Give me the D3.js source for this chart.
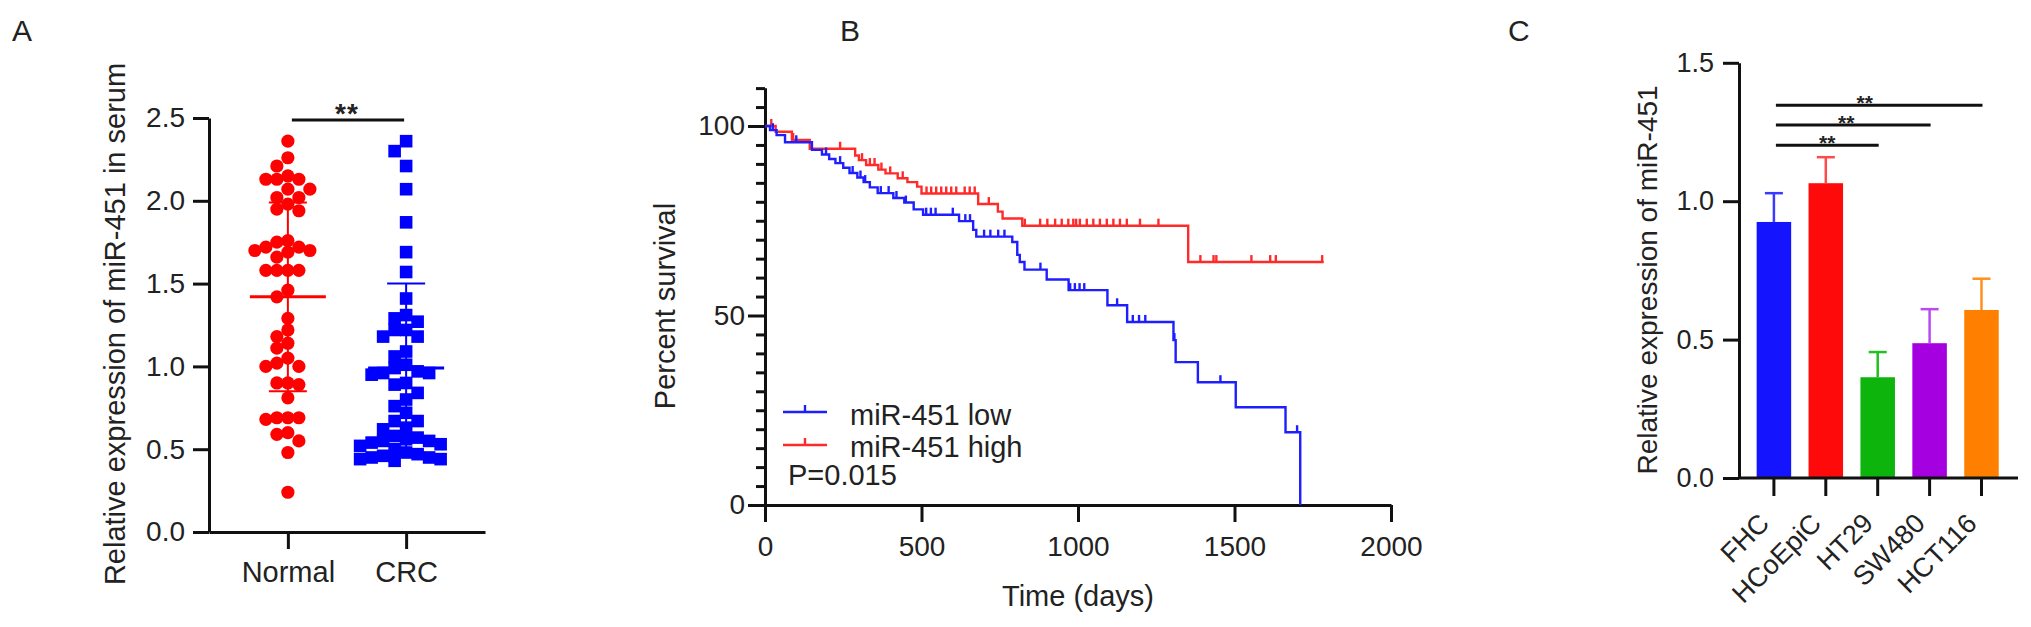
<!DOCTYPE html>
<html><head><meta charset="utf-8">
<script src="https://cdn.jsdelivr.net/npm/d3@7"></script>
<style>
body{margin:0;background:#fff;}
svg{display:block;}
text{font-family:"Liberation Sans",Arial,Helvetica,sans-serif;fill:#222;}
</style>
</head><body>
<svg id="fig" width="2031" height="627"></svg>
<script>
// ---------------- Panel A data ----------------
const groupsA = ["Normal", "CRC"];
const normalValues = [2.36,2.26,2.21,2.15,2.13,2.13,2.13,2.07,2.07,2.02,2.02,1.98,1.94,1.95,1.76,1.72,1.72,1.70,1.69,1.75,1.70,1.66,1.58,1.58,1.58,1.58,1.46,1.42,1.29,1.22,1.18,1.14,1.11,1.05,1.02,1.00,1.00,0.90,0.89,0.90,0.81,0.69,0.68,0.69,0.69,0.60,0.59,0.55,0.48,0.24];
const crcValues = [2.36,2.30,2.21,2.07,1.87,1.69,1.57,1.41,1.31,1.29,1.27,1.22,1.22,1.18,1.18,1.09,1.06,0.99,1.01,0.96,0.95,0.96,0.97,0.90,0.89,0.84,0.80,0.76,0.72,0.67,0.67,0.63,0.62,0.58,0.55,0.57,0.53,0.55,0.54,0.52,0.50,0.48,0.47,0.45,0.44,0.44,0.43,0.45,0.46,0.56];
const normalMeanSD = [1.42, 0.57];
const crcMeanSD = [0.99, 0.51];
const ticksA = [0, 0.5, 1.0, 1.5, 2.0, 2.5];
const sigA = 2.488;

// ---------------- Panel B data ----------------
const lowTime = [0,16,37,64,150,182,205,225,250,270,295,315,335,360,410,445,475,505,620,665,675,790,806,814,829,900,970,1094,1157,1305,1312,1383,1504,1663,1710];
const lowSurv = [100,98.9,97.6,95.7,93.7,92.5,91.3,90.2,89.0,87.6,86.4,85.2,83.8,82.3,81.0,79.8,78.0,76.6,74.9,72.6,70.8,69.4,66.0,64.1,62.1,59.5,56.7,52.7,48.3,43.5,37.7,32.4,25.8,19.2,0];
const lowEnd = 1710;
const lowCensor = [25,100,195,240,280,305,320,370,395,420,450,515,530,545,600,640,655,700,720,745,765,880,975,990,1005,1020,1125,1175,1195,1215,1308,1455,1700];
const highTime = [0,34,86,143,288,300,323,362,385,424,455,486,500,681,744,759,822,1352];
const highSurv = [100,98.5,96.3,94.0,92.2,91.0,89.7,88.5,87.5,86.2,85.2,84.0,82.2,79.4,77.4,75.6,73.7,64.1];
const highEnd = 1785;
const highCensor = [20,90,240,310,335,350,372,400,440,516,531,547,563,579,595,611,638,654,670,715,830,879,902,927,948,969,985,994,1006,1028,1049,1070,1092,1113,1134,1156,1198,1257,1391,1433,1442,1554,1614,1632,1780];
const ticksBx = [0, 500, 1000, 1500, 2000];
const ticksBy = [0, 50, 100];
const minorBy = d3.range(0, 111, 5);
const seriesB = ["miR-451 low", "miR-451 high"];
const pValueText = "P=0.015";

// ---------------- Panel C data ----------------
const cells = ["FHC", "HCoEpiC", "HT29", "SW480", "HCT116"];
const cellMeans = [0.925, 1.065, 0.364, 0.487, 0.607];
const cellErrors = [0.104, 0.094, 0.091, 0.123, 0.113];
const ticksC = [0, 0.5, 1.0, 1.5];
const sigPairsC = [["FHC","HT29"],["FHC","SW480"],["FHC","HCT116"]];
const sigLevelsC = [1.202, 1.275, 1.347];

// ---------------- styles ----------------
const RED = "#ff0000", BLUE = "#0000ff";
const barColors = ["#1414ff", "#ff0a0a", "#0cb40c", "#a400e0", "#ff8000"];
const errColors = ["#3a3aff", "#ff4a4a", "#20c020", "#b84af0", "#ff9020"];
const KM_BLUE = "#1e1eff", KM_RED = "#ff2a2a";

const svg = d3.select("#fig");
svg.append("rect").attr("width", 2031).attr("height", 627).attr("fill", "#fff");

function styleAxis(g, fs) {
  g.selectAll("path.domain").attr("stroke", "#111").attr("stroke-width", 3);
  g.selectAll(".tick line").attr("stroke", "#111").attr("stroke-width", 3);
  g.selectAll(".tick text").attr("font-size", fs).attr("fill", "#222")
    .attr("font-family", '"Liberation Sans",Arial,sans-serif');
}

// panel letters
svg.append("text").attr("x", 12).attr("y", 41).attr("font-size", 30).text("A");
svg.append("text").attr("x", 840).attr("y", 41).attr("font-size", 30).text("B");
svg.append("text").attr("x", 1508).attr("y", 41).attr("font-size", 30).text("C");

// ================= Panel A =================
const yA = d3.scaleLinear().domain([0, 2.5]).range([532, 118]);
const xA = d3.scalePoint().domain(groupsA).range([209, 485]).padding(0.667);

function swarm(values, cx, step, minDist) {
  const pts = values.map(v => ({v, y: yA(v)})).sort((a, b) => b.v - a.v);
  const order = [0, -1, 1, -2, 2, -3, 3, -4, 4, -5, 5];
  const placed = [];
  for (const p of pts) {
    for (const k of order) {
      const x = cx + k * step;
      if (placed.every(q => Math.hypot(q.x - x, q.y - p.y) >= minDist)) { p.x = x; break; }
    }
    if (p.x === undefined) p.x = cx;
    placed.push(p);
  }
  return placed;
}

const gA = svg.append("g");
const normPts = swarm(normalValues, xA("Normal"), 11, 10.5);
gA.selectAll("circle.n").data(normPts).join("circle")
  .attr("cx", d => d.x).attr("cy", d => d.y).attr("r", 6.6).attr("fill", RED);
const crcPts = swarm(crcValues, xA("CRC"), 11.5, 11.5);
const sq = 12.6;
gA.selectAll("rect.c").data(crcPts).join("rect")
  .attr("x", d => d.x - sq / 2).attr("y", d => d.y - sq / 2)
  .attr("width", sq).attr("height", sq).attr("fill", BLUE);

// mean +/- SD
[[xA("Normal"), normalMeanSD, RED], [xA("CRC"), crcMeanSD, BLUE]].forEach(([cx, ms, col]) => {
  const [m, s] = ms;
  gA.append("line").attr("x1", cx).attr("x2", cx).attr("y1", yA(m + s)).attr("y2", yA(m - s))
    .attr("stroke", col).attr("stroke-width", 2);
  gA.append("line").attr("x1", cx - 38).attr("x2", cx + 38).attr("y1", yA(m)).attr("y2", yA(m))
    .attr("stroke", col).attr("stroke-width", 3);
  [m + s, m - s].forEach(v => gA.append("line").attr("x1", cx - 19).attr("x2", cx + 19)
    .attr("y1", yA(v)).attr("y2", yA(v)).attr("stroke", col).attr("stroke-width", 2));
});

const axA = svg.append("g").attr("transform", "translate(209,0)")
  .call(d3.axisLeft(yA).tickValues(ticksA).tickFormat(d3.format(".1f")).tickSize(16).tickSizeOuter(0).tickPadding(8));
styleAxis(axA, 28);
const axAx = svg.append("g").attr("transform", "translate(0,532)")
  .call(d3.axisBottom(xA).tickSize(17).tickSizeOuter(0).tickPadding(12));
styleAxis(axAx, 29);
svg.append("text").attr("transform", "translate(125,324) rotate(-90)")
  .attr("text-anchor", "middle").attr("font-size", 29).text("Relative expression of miR-451 in serum");
// significance
svg.append("line").attr("x1", xA("Normal") + 4).attr("x2", xA("CRC") - 2)
  .attr("y1", yA(sigA)).attr("y2", yA(sigA)).attr("stroke", "#111").attr("stroke-width", 3);
svg.append("text").attr("x", (xA("Normal") + xA("CRC")) / 2).attr("y", yA(sigA) + 3)
  .attr("text-anchor", "middle").attr("font-size", 28).attr("font-weight", "bold").attr("letter-spacing", 1).text("**");

// ================= Panel B =================
const xB = d3.scaleLinear().domain([0, 2000]).range([765, 1391]);
const yB = d3.scaleLinear().domain([0, 110]).range([505, 88.1]);

const minorAx = svg.append("g").attr("transform", "translate(765,0)")
  .call(d3.axisLeft(yB).tickValues(minorBy.filter(v => v % 50 !== 0)).tickSize(9).tickSizeOuter(0).tickFormat(""));
styleAxis(minorAx, 28);
const axBy = svg.append("g").attr("transform", "translate(765,0)")
  .call(d3.axisLeft(yB).tickValues(ticksBy).tickSize(17).tickSizeOuter(0).tickPadding(3));
styleAxis(axBy, 28);
const axBx = svg.append("g").attr("transform", "translate(0,505)")
  .call(d3.axisBottom(xB).tickValues(ticksBx).tickFormat(d3.format("d")).tickSize(17).tickSizeOuter(0).tickPadding(14));
styleAxis(axBx, 28);

svg.append("text").attr("transform", "translate(675,306) rotate(-90)")
  .attr("text-anchor", "middle").attr("font-size", 29).text("Percent survival");
svg.append("text").attr("x", 1078).attr("y", 606).attr("text-anchor", "middle")
  .attr("font-size", 29).text("Time (days)");

function survAt(times, surv, t) {
  let s = surv[0];
  for (let i = 0; i < times.length; i++) if (times[i] <= t) s = surv[i];
  return s;
}
const stepLine = d3.line().x(d => xB(d[0])).y(d => yB(d[1])).curve(d3.curveStepAfter);
function drawKM(times, surv, end, censor, col) {
  const pts = times.map((t, i) => [t, surv[i]]);
  if (end > times[times.length - 1]) pts.push([end, surv[surv.length - 1]]);
  svg.append("path").attr("d", stepLine(pts)).attr("fill", "none")
    .attr("stroke", col).attr("stroke-width", 2.4);
  svg.append("g").selectAll("line").data(censor).join("line")
    .attr("x1", d => xB(d)).attr("x2", d => xB(d))
    .attr("y1", d => yB(survAt(times, surv, d)))
    .attr("y2", d => yB(survAt(times, surv, d)) - 7)
    .attr("stroke", col).attr("stroke-width", 2.4);
}
drawKM(highTime, highSurv, highEnd, highCensor, KM_RED);
drawKM(lowTime, lowSurv, lowEnd, lowCensor, KM_BLUE);

// legend
[[KM_BLUE, 412, 425], [KM_RED, 445, 457]].forEach(([col, ly, ty], i) => {
  svg.append("line").attr("x1", 783).attr("x2", 827).attr("y1", ly).attr("y2", ly)
    .attr("stroke", col).attr("stroke-width", 2.4);
  svg.append("line").attr("x1", 805).attr("x2", 805).attr("y1", ly).attr("y2", ly - 7)
    .attr("stroke", col).attr("stroke-width", 2.4);
  svg.append("text").attr("x", 850).attr("y", ty).attr("font-size", 29).text(seriesB[i]);
});
svg.append("text").attr("x", 788).attr("y", 485).attr("font-size", 29).text(pValueText);

// ================= Panel C =================
const yC = d3.scaleLinear().domain([0, 1.5]).range([478, 62.8]);
const xC = d3.scaleBand().domain(cells).range([1739, 2016.4]).paddingInner(0.335).paddingOuter(0.34);

const gC = svg.append("g");
gC.selectAll("rect").data(cells).join("rect")
  .attr("x", d => xC(d)).attr("width", xC.bandwidth())
  .attr("y", (d, i) => yC(cellMeans[i])).attr("height", (d, i) => yC(0) - yC(cellMeans[i]))
  .attr("fill", (d, i) => barColors[i]);
cells.forEach((c, i) => {
  const cx = xC(c) + xC.bandwidth() / 2;
  gC.append("line").attr("x1", cx).attr("x2", cx)
    .attr("y1", yC(cellMeans[i])).attr("y2", yC(cellMeans[i] + cellErrors[i]))
    .attr("stroke", errColors[i]).attr("stroke-width", 2.5);
  gC.append("line").attr("x1", cx - 9).attr("x2", cx + 9)
    .attr("y1", yC(cellMeans[i] + cellErrors[i])).attr("y2", yC(cellMeans[i] + cellErrors[i]))
    .attr("stroke", errColors[i]).attr("stroke-width", 2.5);
});

const axCy = svg.append("g").attr("transform", "translate(1739,0)")
  .call(d3.axisLeft(yC).tickValues(ticksC).tickFormat(d3.format(".1f")).tickSize(16).tickSizeOuter(0).tickPadding(9));
styleAxis(axCy, 27);
const axCx = svg.append("g").attr("transform", "translate(0,478)")
  .call(d3.axisBottom(xC).tickSize(18).tickSizeOuter(0));
styleAxis(axCx, 27);
axCx.select("path.domain").attr("d", "M1739,0H2018");
axCx.selectAll(".tick text")
  .attr("text-anchor", "end").attr("x", 0).attr("y", 0).attr("dy", 0)
  .attr("transform", "translate(-3,47) rotate(-45)");

svg.append("text").attr("transform", "translate(1657,280) rotate(-90)")
  .attr("text-anchor", "middle").attr("font-size", 28).text("Relative expression of miR-451");

const starFrac = [0.5, 0.455, 0.43];
sigPairsC.forEach(([a, b], i) => {
  const x1 = xC(a) + xC.bandwidth() / 2 + 2, x2 = xC(b) + xC.bandwidth() / 2 + 1;
  const y = yC(sigLevelsC[i]);
  svg.append("line").attr("x1", x1).attr("x2", x2).attr("y1", y).attr("y2", y)
    .attr("stroke", "#111").attr("stroke-width", 3);
  svg.append("text").attr("x", x1 + (x2 - x1) * starFrac[i]).attr("y", y + 5)
    .attr("text-anchor", "middle").attr("font-size", 21).attr("font-weight", "bold")
    .text("**");
});
</script>
</body></html>
